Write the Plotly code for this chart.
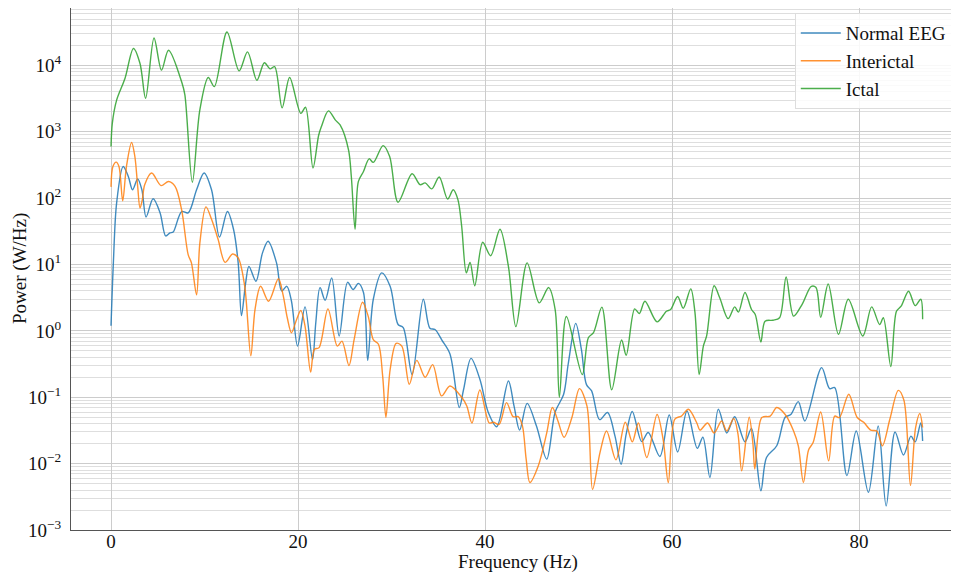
import plotly.graph_objects as go

# ---------------- data ----------------
ictal_freq = [0.0, 0.14, 0.6, 1.5, 2.4, 3.1, 3.7, 4.6, 5.4, 6.15, 7.6, 7.9, 8.7, 9.5, 10.4, 11.05,
              12.4, 13.7, 14.6, 15.6, 16.4, 17.0, 17.5, 18.3, 19.1, 20.3, 20.8, 21.6, 22.2, 22.5,
              23.25, 24.0, 24.5, 25.4, 25.7, 26.1, 26.45, 27.0, 27.6, 28.05, 29.1, 29.8, 30.7,
              32.2, 33.05, 33.6, 34.3, 35.1, 36.0, 36.6, 37.1, 37.5, 38.0, 38.4, 38.9, 39.75,
              40.6, 41.6, 42.5, 43.3, 44.5, 45.8, 46.8, 47.5, 47.95, 48.7, 50.4, 51.05, 51.6,
              52.5, 53.55, 54.6, 55.1, 56.0, 56.5, 57.1, 58.4, 59.4, 59.85, 60.6, 61.2, 62.0,
              62.45, 62.9, 63.35, 63.7, 64.5, 65.1, 66.0, 66.7, 67.1, 67.8, 68.5, 68.9, 69.5,
              69.95, 70.8, 71.5, 72.2, 73.0, 73.9, 74.9, 75.4, 75.9, 76.7, 77.8, 78.85, 80.4,
              81.35, 82.2, 82.6, 83.4, 84.0, 84.5, 85.3, 86.0, 86.6, 86.8]
ictal_power = [600, 1350, 3000, 6400, 18000, 10700, 3200, 26000, 8500, 17000, 5400, 3600, 174,
               2150, 6600, 4800, 32000, 8300, 16000, 6000, 11000, 8900, 9600, 2300, 6600, 1900,
               2350, 285, 880, 1200, 2070, 1500, 1270, 535, 212, 34, 178, 252, 392, 346, 620,
               425, 87, 234, 160, 170, 138, 209, 97, 134, 95, 38, 7.5, 10.8, 4.8, 21.7, 13.6,
               34, 9.4, 1.16, 10.6, 2.65, 4.5, 2.1, 0.10, 1.65, 0.22, 0.79, 0.94, 2.28, 0.13,
               0.73, 0.43, 2.15, 1.83, 2.8, 1.37, 1.98, 2.1, 3.3, 2.2, 4.3, 1.9, 0.22, 0.59,
               0.84, 4.8, 3.16, 1.53, 2.3, 1.92, 3.8, 2.1, 1.77, 0.68, 1.4, 1.45, 1.58, 6.5,
               1.67, 2.5, 4.7, 4.5, 1.6, 5.1, 0.89, 3.0, 0.84, 2.3, 1.25, 1.58, 0.29, 1.98,
               2.36, 3.97, 2.4, 3.0, 1.5]

normal_freq = [0.0, 0.25, 0.6, 1.3, 1.85, 2.3, 2.85, 3.3, 3.75, 4.5, 5.25, 5.85, 6.3, 6.65, 7.55,
               8.25, 9.15, 9.95, 10.75, 11.6, 12.45, 13.1, 13.6, 13.95, 14.4, 14.75, 15.5, 16.2,
               16.8, 17.7, 18.25, 18.8, 19.3, 19.95, 20.75, 21.55, 21.9, 22.35, 22.9, 23.6, 24.4,
               25.3, 25.9, 26.45, 27.0, 27.45, 28.05, 28.95, 29.85, 30.7, 31.25, 32.2, 33.4,
               34.1, 34.65, 35.4, 36.25, 37.25, 37.7, 38.5, 39.45, 40.35, 41.25, 42.5, 43.1,
               43.7, 44.5, 45.5, 46.6, 47.5, 48.4, 48.9, 49.7, 50.3, 50.85, 51.4, 52.25, 53.1,
               53.9, 54.55, 55.1, 55.75, 56.75, 57.45, 58.7, 59.7, 60.6, 61.6, 62.7, 63.3, 64.05,
               64.95, 65.85, 66.7, 67.8, 68.5, 69.5, 70.1, 71.2, 72.1, 72.7, 73.5, 74.2, 76.0,
               76.85, 77.4, 78.7, 79.7, 81.0, 82.05, 82.9, 83.85, 84.75, 85.55, 86.0, 86.6, 86.8]
normal_power = [1.2, 10.6, 85, 300, 213, 134, 195, 134, 52, 98, 60, 27, 30, 31, 63, 60, 134, 240,
                134, 26, 63, 34, 10.6, 1.7, 5.3, 9.4, 5.6, 15, 22.4, 10.6, 4.0, 4.7, 2.8, 0.59,
                2.3, 0.37, 1.33, 4.5, 2.9, 6.3, 0.84, 5.4, 4.2, 5.2, 3.8, 0.36, 3.0, 7.5, 4.7,
                1.25, 1.12, 0.22, 3.0, 1.1, 1.05, 0.72, 0.45, 0.07, 0.13, 0.385, 0.187, 0.059,
                0.036, 0.176, 0.074, 0.032, 0.081, 0.037, 0.0117, 0.06, 0.11, 0.32, 1.3, 0.53,
                0.155, 0.125, 0.046, 0.059, 0.026, 0.0098, 0.028, 0.061, 0.0215, 0.0295, 0.0128,
                0.054, 0.015, 0.062, 0.017, 0.025, 0.0062, 0.066, 0.029, 0.051, 0.0213, 0.034,
                0.0039, 0.0124, 0.0186, 0.05, 0.055, 0.086, 0.044, 0.28, 0.135, 0.14, 0.0066,
                0.031, 0.0037, 0.037, 0.0023, 0.030, 0.0135, 0.026, 0.0213, 0.041, 0.022]

interictal_freq = [0.0, 0.2, 0.55, 0.85, 1.25, 1.65, 2.2, 2.55, 2.85, 3.1, 3.35, 3.6, 4.35, 5.35,
                   6.15, 6.85, 7.55, 8.25, 8.6, 9.15, 9.5, 10.15, 10.75, 11.45, 12.2, 13.0, 13.6,
                   14.3, 14.95, 15.4, 16.0, 16.85, 17.9, 18.4, 18.85, 19.3, 19.85, 20.3, 20.75,
                   21.35, 21.75, 22.25, 23.2, 24.2, 24.7, 25.45, 26.0, 26.9, 27.5, 28.05, 28.6,
                   29.05, 29.4, 29.85, 30.5, 31.1, 31.9, 32.7, 33.6, 34.4, 35.35, 36.25, 37.5,
                   38.05, 38.6, 39.45, 40.45, 40.9, 41.5, 42.3, 43.0, 43.55, 44.0, 44.4, 44.8,
                   45.7, 46.6, 47.2, 47.8, 48.45, 49.3, 50.1, 50.9, 51.5, 52.3, 53.0, 54.0, 55.0,
                   55.75, 56.4, 57.3, 58.4, 59.05, 59.6, 60.3, 61.0, 61.75, 62.65, 63.0, 63.8,
                   64.5, 65.3, 65.85, 66.6, 67.05, 67.45, 68.25, 68.65, 68.85, 69.6, 70.5, 71.2,
                   72.1, 73.0, 73.5, 74.05, 74.6, 75.1, 75.9, 76.75, 77.4, 77.9, 78.9, 79.8, 80.5,
                   81.25, 81.9, 82.5, 83.3, 84.2, 84.8, 85.5, 86.05, 86.5, 86.8]
interictal_power = [148, 300, 350, 300, 91, 300, 690, 425, 151, 71, 95, 159, 240, 155, 178, 151,
                    67, 14.1, 10.6, 3.5, 21, 74, 48, 24, 10.8, 14.4, 12.6, 4.7, 0.42, 2.1, 4.7,
                    2.8, 6.1, 3.5, 1.58, 0.94, 1.49, 2.03, 1.18, 0.24, 0.53, 0.56, 2.15, 0.59,
                    0.70, 0.30, 0.74, 2.7, 1.67, 0.74, 0.63, 0.21, 0.050, 0.26, 0.65, 0.59, 0.157,
                    0.36, 0.20, 0.31, 0.105, 0.148, 0.10, 0.074, 0.041, 0.129, 0.041, 0.042,
                    0.039, 0.083, 0.051, 0.051, 0.037, 0.0117, 0.0052, 0.0093, 0.029, 0.07, 0.044,
                    0.025, 0.05, 0.135, 0.074, 0.0041, 0.0148, 0.031, 0.0114, 0.042, 0.0213,
                    0.041, 0.0124, 0.055, 0.023, 0.0052, 0.047, 0.052, 0.066, 0.041, 0.032, 0.041,
                    0.029, 0.044, 0.031, 0.048, 0.028, 0.0078, 0.050, 0.02, 0.0083, 0.0495, 0.052,
                    0.070, 0.055, 0.031, 0.0186, 0.0052, 0.016, 0.021, 0.060, 0.011, 0.052, 0.0495,
                    0.111, 0.0495, 0.042, 0.032, 0.031, 0.0186, 0.047, 0.127, 0.09, 0.0047, 0.035,
                    0.057, 0.035]

series_names = ["Normal EEG", "Interictal", "Ictal"]
series_colors = ["rgba(31,119,180,0.85)", "rgba(255,127,14,0.85)", "rgba(44,160,44,0.85)"]

y_tick_vals = [1e-3, 1e-2, 1e-1, 1e0, 1e1, 1e2, 1e3, 1e4]
y_tick_text = ["10<sup>\u22123</sup>", "10<sup>\u22122</sup>", "10<sup>\u22121</sup>", "10<sup>0</sup>",
               "10<sup>1</sup>", "10<sup>2</sup>", "10<sup>3</sup>", "10<sup>4</sup>"]
x_tick_vals = [0, 20, 40, 60, 80]
x_title = "Frequency (Hz)"
y_title = "Power (W/Hz)"

# ---------------- figure ----------------
FONT = "Liberation Serif, Times New Roman, serif"
fig = go.Figure()
for name, color, fx, py in zip(series_names, series_colors,
                               [normal_freq, interictal_freq, ictal_freq],
                               [normal_power, interictal_power, ictal_power]):
    fig.add_trace(go.Scatter(x=fx, y=py, mode="lines", name=name,
                             line=dict(color=color, width=1.4, shape="spline", smoothing=0.9)))

# the page body has an 8px margin, so the figure is sized/offset to compensate
fig.update_layout(
    width=951, height=568,
    margin=dict(l=63, r=0, t=0, b=46),
    paper_bgcolor="white", plot_bgcolor="white",
    font=dict(family=FONT, size=19, color="#111111"),
    showlegend=True,
    legend=dict(x=0.993, y=0.99, xanchor="right", yanchor="top",
                bgcolor="rgba(255,255,255,0.85)", bordercolor="#dddddd", borderwidth=1,
                font=dict(family=FONT, size=19), tracegroupgap=0, itemwidth=40),
    annotations=[
        dict(text=x_title, xref="paper", yref="paper", x=0.503, y=0, yshift=-32,
             xanchor="center", yanchor="middle", showarrow=False,
             font=dict(family=FONT, size=19, color="#111111")),
        dict(text=y_title, xref="paper", yref="paper", x=0, y=0.5, xshift=-51,
             xanchor="center", yanchor="middle", textangle=-90, showarrow=False,
             font=dict(family=FONT, size=19, color="#111111")),
    ],
)
fig.update_xaxes(
    range=[-4.28, 90.69], tickvals=x_tick_vals, showgrid=True, gridcolor="#cccccc", gridwidth=1,
    zeroline=False, showline=True, linecolor="#555555", linewidth=1, ticks="",
    tickfont=dict(family=FONT, size=19), ticklabelstandoff=-6, automargin=False,
)
fig.update_yaxes(
    type="log", range=[-3, 4.866], tickvals=y_tick_vals, ticktext=y_tick_text,
    showgrid=True, gridcolor="#cccccc", gridwidth=1,
    minor=dict(showgrid=True, gridcolor="#dedede", gridwidth=1, dtick="D1"),
    zeroline=False, showline=True, linecolor="#555555", linewidth=1, ticks="",
    tickfont=dict(family=FONT, size=19), ticklabelstandoff=5, automargin=False,
)

fig.write_html("out.html")
